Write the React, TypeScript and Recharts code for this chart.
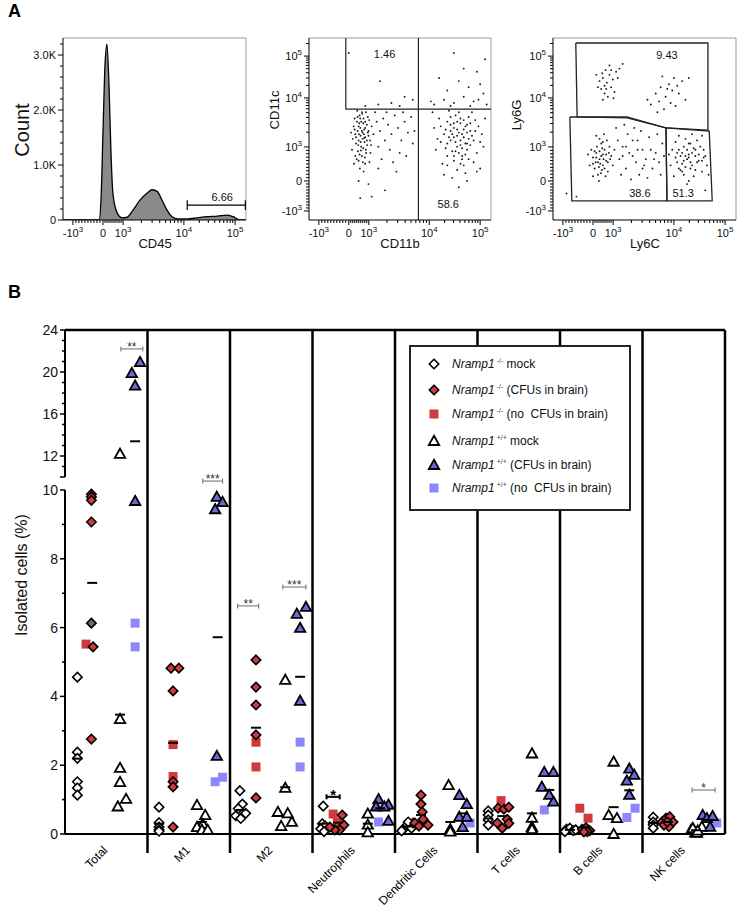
import React from 'react';
import {
  AreaChart,
  Area,
  ScatterChart,
  Scatter,
  XAxis,
  YAxis,
  ReferenceLine,
  ReferenceDot,
} from 'recharts';

const FONT = '"Liberation Sans", Arial, Helvetica, sans-serif';
const RED = '#cf3a3c';
const BLUE = '#6d67d9';
const LILAC = '#8c87fa';

// ---------- A: flow cytometry ----------
// biexponential axes drawn on a display scale where 0 -> 0 and 10^5 -> 4
const fcsLabels = ['-10^3', '0', '10^3', '10^4', '10^5'];
const fcsXMajor = [-0.91, 0, 0.61, 2.45, 4];
const fcsYMajor = [-0.96, 0, 1.09, 2.66, 4];
const fcsXDomain = [-1.21, 4.33];
const fcsYDomain = [-1.25, 4.58];

// CD45 histogram, count in thousands
const cd45Pos = [-1.21, -0.12, -0.06, 0, 0.06, 0.12, 0.18, 0.24, 0.3, 0.43, 0.58, 0.73, 0.91, 1.12, 1.34, 1.49, 1.64, 1.79, 1.94, 2.09, 2.27, 2.55, 2.85, 3.15, 3.46, 3.76, 3.94, 4.15, 4.33];
const cd45Count = [0, 0, 0.36, 1.58, 2.8, 3.2, 2.5, 1.27, 0.49, 0.13, 0.04, 0.05, 0.18, 0.36, 0.49, 0.55, 0.52, 0.36, 0.18, 0.06, 0.02, 0.02, 0.04, 0.06, 0.07, 0.09, 0.06, 0, 0];
const countMajor = [0, 1, 2, 3];
const countLabels = ['0', '1.0K', '2.0K', '3.0K'];
const cd45Gate = [2.55, 4.31, 0.27];

// CD11b (x) / CD11c (y) events
const cd11Events = [
  [0.42, 1.55], [0.35, 1.7], [0.5, 1.4], [0.3, 1.3], [0.55, 1.8], [0.25, 1.9], [0.45, 2.0], [0.6, 1.6], [0.38, 1.1], [0.2, 1.5],
  [0.48, 1.25], [0.33, 2.1], [0.58, 2.05], [0.28, 0.95], [0.4, 0.8], [0.15, 1.75], [0.65, 1.3], [0.52, 1.0], [0.22, 1.2], [0.44, 1.85],
  [0.36, 1.45], [0.62, 1.95], [0.18, 2.0], [0.3, 0.65], [0.5, 0.55], [0.27, 1.6], [0.47, 1.65], [0.4, 2.2], [0.7, 1.75], [0.12, 1.35],
  [0.56, 1.15], [0.34, 0.4], [0.45, 0.3], [0.2, 0.8], [0.66, 0.9], [0.75, 1.5], [0.1, 1.0], [0.52, 2.2], [0.26, 2.25], [0.42, 1.35],
  [0.32, 1.85], [0.58, 1.55], [0.37, 0.98], [0.49, 0.75], [0.16, 0.55], [0.63, 0.6],
  [0.3, 1.75], [0.4, 1.6], [0.5, 1.9], [0.22, 1.4], [0.36, 1.25], [0.46, 1.5], [0.55, 1.3], [0.27, 2.05], [0.41, 2.15], [0.33, 0.85],
  [0.44, 1.05], [0.6, 1.45], [0.18, 1.65], [0.5, 1.7], [0.38, 1.9], [0.29, 1.15], [0.53, 0.9], [0.24, 0.7], [0.43, 0.6], [0.68, 1.15],
  [0.07, 1.55], [0.31, 1.5], [0.47, 1.38], [0.35, 2.0],
  [0.85, 1.9], [0.95, 1.6], [1.05, 2.0], [1.1, 1.3], [0.9, 1.1], [1.2, 1.8], [1.3, 1.5], [1.4, 2.1], [1.25, 1.0], [1.5, 1.7],
  [1.6, 1.3], [1.7, 1.9], [1.55, 0.9], [1.8, 1.55], [1.9, 2.05], [1.95, 1.2], [1.0, 0.7], [1.35, 0.6], [1.75, 0.8], [0.8, 2.2],
  [1.15, 2.2], [1.65, 2.2], [2.0, 1.6], [0.9, 0.4], [1.45, 0.3], [0.6, -0.1], [0.3, 0.0], [0.7, -0.5], [0.35, -0.55], [1.1, -0.3],
  [3.35, 1.55], [3.2, 1.7], [3.5, 1.4], [3.1, 1.3], [3.6, 1.8], [3.0, 1.9], [3.4, 2.0], [3.7, 1.6], [3.3, 1.1], [2.9, 1.5],
  [3.55, 1.2], [3.25, 2.1], [3.65, 2.05], [3.15, 0.95], [3.45, 0.8], [2.8, 1.75], [3.8, 1.3], [3.6, 1.0], [3.0, 1.2], [3.4, 1.85],
  [3.3, 1.45], [3.85, 1.95], [2.75, 2.0], [3.2, 0.65], [3.5, 0.5], [3.1, 1.6], [3.5, 1.65], [3.35, 2.2], [3.95, 1.75], [2.7, 1.35],
  [3.7, 1.15], [3.3, 0.35], [3.55, 0.25], [3.0, 0.8], [3.9, 0.9], [4.05, 1.5], [2.65, 1.0], [3.75, 2.2], [3.05, 2.25], [3.4, 1.3],
  [3.2, 1.85], [3.6, 1.55], [3.25, 0.95], [3.45, 0.7], [2.85, 0.55], [3.8, 0.6], [4.1, 1.1], [4.15, 2.0], [2.6, 1.7], [2.55, 2.2],
  [3.9, 0.3], [3.15, 0.1], [3.6, 0.0], [2.9, 0.2], [4.0, 0.4], [3.35, -0.2],
  [3.3, 1.65], [3.45, 1.5], [3.2, 1.4], [3.55, 1.75], [3.1, 1.8], [3.4, 1.15], [3.65, 1.35], [3.25, 1.25], [3.5, 1.95], [3.35, 0.9],
  [3.15, 1.5], [3.6, 1.2], [2.95, 1.65], [3.75, 1.45], [3.3, 1.9], [3.45, 1.05], [3.05, 1.4], [3.7, 1.85], [3.2, 0.8], [3.55, 0.85],
  [3.85, 1.6], [2.95, 1.05], [3.4, 0.55], [3.1, 2.05], [3.65, 0.7], [3.0, 0.5], [4.0, 1.25], [2.8, 1.25],
  [2.6, 2.45], [2.9, 2.6], [3.2, 2.5], [3.5, 2.7], [3.8, 2.55], [4.1, 2.8], [3.0, 2.9], [3.65, 3.0], [3.35, 3.2], [4.0, 3.1],
  [2.75, 3.3], [3.9, 3.5], [3.5, 3.6], [4.15, 3.9], [3.2, 4.1], [2.5, 2.55], [3.7, 2.4], [4.2, 2.45], [3.1, 2.4], [3.95, 2.6],
  [0.9, 2.45], [1.3, 2.5], [1.7, 2.7], [1.95, 2.6], [1.55, 2.4], [0.0, 4.1], [0.95, 3.2], [0.5, 2.4],
];
const cd11Split = [2.12, 2.3, -0.09]; // vertical gate, horizontal gate, left edge of upper gate
const cd11GateLabels = [[1.09, 4.06, '1.46'], [3.03, -0.74, '58.6']];

// Ly6C (x) / Ly6G (y) events
const ly6Events = [
  [0.42, 3.15], [0.3, 3.3], [0.55, 3.0], [0.25, 2.95], [0.5, 3.4], [0.35, 2.8], [0.6, 3.25], [0.2, 3.2], [0.45, 2.7], [0.7, 3.5],
  [0.38, 3.55], [0.15, 3.0], [0.65, 2.85], [0.3, 2.6], [0.8, 3.6], [0.5, 3.7], [0.9, 3.75], [0.1, 3.4], [0.55, 3.55], [0.4, 2.95],
  [0.75, 3.3], [0.28, 3.45], [0.62, 2.65], [0.35, 3.05],
  [2.2, 2.7], [2.4, 2.9], [2.0, 2.55], [2.6, 2.8], [2.3, 3.1], [1.9, 2.8], [2.5, 2.4], [2.15, 2.3], [2.7, 3.2], [2.05, 3.0],
  [2.45, 3.3], [1.75, 2.45], [2.35, 2.5], [2.8, 2.6], [1.95, 2.2], [2.55, 3.05], [2.25, 2.95], [1.65, 2.6], [2.9, 3.3], [2.1, 3.35],
  [0.2, 0.7], [0.1, 0.9], [0.3, 0.5], [0.05, 0.4], [0.35, 1.0], [0.0, 0.75], [0.25, 1.2], [0.4, 0.65], [0.15, 0.2], [0.45, 0.3],
  [-0.05, 1.0], [0.3, 0.85], [0.2, 1.35], [0.5, 1.1], [0.08, 0.6], [0.38, 0.15], [0.55, 0.8], [-0.1, 0.5], [0.27, 0.35], [0.12, 1.1],
  [0.6, 0.5], [0.42, 1.3], [0.0, 0.15], [0.18, 0.0], [0.33, 1.5], [0.65, 1.0], [-0.15, 0.85], [0.22, 0.55], [0.48, 0.9], [0.1, 1.45],
  [0.25, 0.8], [0.15, 0.6], [0.32, 0.7], [0.2, 0.95], [0.4, 0.85], [0.1, 0.75], [0.28, 1.05], [0.35, 0.4], [0.05, 0.95], [0.45, 0.6],
  [0.18, 0.45], [0.3, 1.25], [0.52, 0.7], [0.0, 0.55], [0.24, 0.25],
  [0.8, 0.7], [0.9, 1.1], [1.0, 0.4], [1.1, 0.9], [1.2, 1.3], [1.3, 0.6], [1.4, 0.2], [1.5, 1.0], [1.6, 0.7], [1.7, 1.4],
  [1.8, 0.4], [1.9, 0.9], [2.0, 0.6], [2.1, 1.2], [0.85, 0.2], [1.05, 1.5], [1.35, 1.0], [1.65, 0.1], [1.95, 1.5], [0.75, 1.3],
  [1.15, 0.05], [1.55, 0.5], [2.05, 0.2], [1.25, 1.7], [0.95, 1.8], [1.45, 1.6], [0.7, 1.7], [-0.5, -0.5], [-0.8, -0.4],
  [1.2, 0.8], [1.5, 0.4], [1.75, 1.0], [1.0, 1.1], [1.85, 0.7], [2.15, 0.8], [1.35, 1.3], [0.9, 0.8],
  [2.85, 0.7], [2.7, 0.9], [3.0, 0.5], [2.6, 0.4], [3.1, 1.0], [2.5, 0.75], [2.95, 1.2], [3.2, 0.65], [2.75, 0.2], [3.3, 0.3],
  [2.4, 1.0], [2.9, 0.85], [2.8, 1.35], [3.25, 1.1], [2.55, 0.6], [3.05, 0.15], [3.4, 0.8], [2.35, 0.5], [2.65, 0.35], [2.75, 1.1],
  [3.45, 0.5], [3.15, 1.3], [2.45, 0.15], [2.9, 0.0], [3.0, 1.5], [3.35, 1.0], [2.3, 0.85], [2.7, 0.55], [3.1, 0.8], [2.6, 1.45],
  [3.5, 0.2], [3.3, 1.45], [2.95, 0.4], [2.85, -0.1], [3.4, -0.3], [2.5, 1.25],
  [2.9, 0.75], [2.75, 0.65], [3.0, 0.9], [2.8, 0.45], [3.15, 0.6], [2.65, 0.8], [2.95, 0.6], [3.05, 1.05], [2.85, 1.0], [3.2, 0.85],
  [2.7, 0.3], [3.3, 0.65], [2.6, 1.0], [3.1, 0.35], [2.9, 1.2], [2.55, 0.9], [3.35, 0.75], [2.8, 0.8],
];
const ly6GateTop = [[-0.52, 4.42], [3.48, 4.42], [3.48, 1.63], [2.21, 1.7], [1.03, 2.02], [-0.48, 2.05], [-0.52, 4.42]];
const ly6GateLeft = [[-0.7, 2.05], [1.03, 2.05], [2.21, 1.7], [2.24, -0.64], [-0.64, -0.64], [-0.7, 2.05]];
const ly6GateRight = [[2.21, 1.7], [3.52, 1.6], [3.61, -0.64], [2.24, -0.64], [2.21, 1.7]];
const ly6GateLabels = [[2.24, 4.03, '9.43'], [1.42, -0.38, '38.6'], [2.73, -0.38, '51.3']];

// ---------- B: isolated cells ----------
const categories = ['Total', 'M1', 'M2', 'Neutrophils', 'Dendritic Cells', 'T cells', 'B cells', 'NK cells'];
// [category, position inside the category (0-1), % isolated cells]
const koMock = [
  [0, .15, 4.56], [0, .15, 2.38], [0, .15, 2.2], [0, .15, 1.52], [0, .15, 1.34], [0, .15, 1.13],
  [1, .14, .78], [1, .14, .33], [1, .14, .2], [1, .14, .12], [1, .14, .08],
  [2, .12, 1.26], [2, .15, .87], [2, .1, .74], [2, .19, .6], [2, .07, .53], [2, .13, .45],
  [3, .13, .81], [3, .12, .3], [3, .15, .24], [3, .1, .15], [3, .14, .07],
  [4, .1, .14], [4, .15, .26], [4, .2, .17], [4, .08, .09], [4, .22, .32], [4, .16, .35],
  [5, .13, .67], [5, .13, .55], [5, .13, .41], [5, .13, .26],
  [6, .08, .14], [6, .12, .17], [6, .16, .1], [6, .06, .07], [6, .19, .12],
  [7, .13, .49], [7, .13, .35], [7, .13, .26], [7, .13, .17],
];
const koCfu = [
  [0, .32, 9.88], [0, .32, 9.8], [0, .32, 9.7], [0, .32, 9.07], [0, .34, 5.44], [0, .32, 2.76],
  [1, .285, 4.82], [1, .38, 4.82], [1, .31, 4.16], [1, .31, 1.52], [1, .31, 1.37], [1, .31, .2],
  [2, .315, 5.06], [2, .315, 4.27], [2, .315, 3.75], [2, .315, 2.88], [2, .315, 1.05],
  [3, .36, .55], [3, .38, .26], [3, .33, .12], [3, .27, .12], [3, .21, .2],
  [4, .315, 1.13], [4, .315, .87], [4, .33, .64], [4, .34, .43], [4, .24, .32], [4, .29, .23], [4, .4, .26],
  [5, .25, .75], [5, .32, .72], [5, .38, .78], [5, .36, .43], [5, .24, .32], [5, .38, .31], [5, .3, .17],
  [6, .27, .14], [6, .315, .18], [6, .36, .1], [6, .33, .07], [6, .29, .06],
  [7, .235, .35], [7, .285, .46], [7, .33, .5], [7, .37, .35], [7, .32, .21], [7, .26, .26], [7, .3, .35],
];
const koCfuOverlap = [[0, .32, 6.13]];
const koNoCfu = [
  [0, .255, 5.52], [1, .31, 2.6], [1, .31, 1.67], [2, .315, 2.67], [2, .315, 1.95],
  [3, .25, .58], [3, .3, .35], [5, .285, .97], [6, .24, .75], [6, .34, .46],
];
const wtMock = [
  [0, .667, 12.2], [0, .667, 3.34], [0, .667, 1.92], [0, .667, 1.51], [0, .74, 1.02], [0, .64, .8],
  [1, .6, .84], [1, .7, .55], [1, .67, .29], [1, .6, .2], [1, .66, .12], [1, .73, .12],
  [2, .67, 4.48], [2, .67, 1.34], [2, .58, .64], [2, .7, .6], [2, .75, .35], [2, .62, .23],
  [3, .67, .59], [3, .67, .27], [3, .67, .05],
  [4, .65, 1.42], [4, .67, .14], [4, .67, .07],
  [5, .66, 2.34], [5, .66, .47], [5, .66, .21], [5, .66, .14],
  [6, .65, 2.1], [6, .59, .55], [6, .69, .46], [6, .65, 0],
  [7, .59, .12], [7, .64, .04], [7, .66, .03], [7, .72, .21], [7, .61, .17], [7, .67, .1],
];
const wtCfu = [
  [0, .91, 20.95], [0, .81, 19.9], [0, .85, 18.7], [0, .85, 9.68],
  [1, .84, 9.8], [1, .91, 9.65], [1, .82, 9.44], [1, .84, 2.27],
  [2, .92, 6.6], [2, .81, 6.4], [2, .85, 5.99], [2, .85, 3.87],
  [3, .8, 1.01], [3, .92, .85], [3, .77, .8], [3, .87, .8], [3, .92, .38],
  [4, .78, 1.13], [4, .87, .87], [4, .78, .5], [4, .87, .5], [4, .82, .2],
  [5, .81, 1.8], [5, .92, 1.8], [5, .78, 1.37], [5, .87, 1.14], [5, .92, .94],
  [6, .84, 1.9], [6, .9, 1.72], [6, .81, 1.55], [6, .84, 1.14],
  [7, .73, .55], [7, .78, .46], [7, .85, .52], [7, .82, .21],
];
const wtNoCfu = [
  [0, .85, 6.13], [0, .85, 5.44], [1, .91, 1.65], [1, .82, 1.52], [2, .85, 2.67], [2, .85, 1.95],
  [3, .8, .35], [4, .91, .32], [5, .81, .7], [6, .91, .75], [6, .81, .48], [7, .9, .32],
];
const groupMeans = [
  [0, .15, 2.19], [0, .33, 7.3], [0, .667, 3.47], [0, .85, 13.4],
  [1, .14, .3], [1, .31, 2.65], [1, .66, .35], [1, .85, 5.72],
  [2, .13, .7], [2, .315, 3.09], [2, .67, 1.36], [2, .85, 4.57],
  [3, .13, .3], [3, .31, .33], [3, .67, .3], [3, .82, .75],
  [4, .15, .22], [4, .315, .55], [4, .67, .35], [4, .82, .6],
  [5, .13, .45], [5, .3, .52], [5, .66, .6], [5, .87, 1.28],
  [6, .12, .12], [6, .3, .2], [6, .65, .78], [6, .84, 1.27],
  [7, .13, .32], [7, .3, .35], [7, .65, .11], [7, .8, .41],
];
// significance bars: [centre, height, width in categories]
const sigBars = [[0.81, 22.2, 0.265], [1.79, 10.26, 0.24], [2.22, 6.63, 0.255], [2.78, 7.18, 0.28], [3.25, 1.08, 0.16], [7.74, 1.28, 0.28]];
const sigStars = ['**', '***', '**', '***', '*', '*'];
const sigBold = [false, false, false, false, true, false];

const upperTicks = [10, 11, 12, 13, 14, 15, 16, 17, 18, 19, 20, 21, 22, 23, 24];
const upperLabels = [12, 16, 20, 24];
const lowerTicks = [0, 1, 2, 3, 4, 5, 6, 7, 8, 9, 10];
const lowerLabels = [0, 2, 4, 6, 8, 10];

const legendItems = [
  { mark: 'openDiamond', sup: '-/-', text: ' mock' },
  { mark: 'redDiamond', sup: '-/-', text: ' (CFUs in brain)' },
  { mark: 'redSquare', sup: '-/-', text: ' (no  CFUs in brain)' },
  { mark: 'openTriangle', sup: '+/+', text: ' mock' },
  { mark: 'blueTriangle', sup: '+/+', text: ' (CFUs in brain)' },
  { mark: 'lilacSquare', sup: '+/+', text: ' (no  CFUs in brain)' },
];

// ---------- helpers ----------
const PLOT_W = 660;
const UNIT = PLOT_W / categories.length;

const fcsMinor = (m: number[], dom: number[]) => {
  const out: number[] = [];
  for (let k = 1; k < 10; k++) {
    out.push(m[0] + ((m[1] - m[0]) * k) / 10, m[1] + ((m[2] - m[1]) * k) / 10);
  }
  for (let d = 2; d < 4; d++) for (let k = 2; k < 10; k++) out.push(m[d] + Math.log10(k) * (m[d + 1] - m[d]));
  for (let k = 2; k < 10; k++) out.push(m[4] + Math.log10(k) * (m[4] - m[3]));
  return out.filter((v) => v > dom[0] && v < dom[1]);
};

const sup = (s: string) => {
  const [b, e] = s.split('^');
  if (!e) return b;
  return [<tspan key="b">{b}</tspan>, <tspan key="e" dy={-5} fontSize={8}>{e}</tspan>];
};

const xTick = (majors: number[], labels: string[]) => (p: any) => {
  const i = majors.indexOf(p.payload.value);
  return (
    <g>
      <line x1={p.x} x2={p.x} y1={p.y} y2={p.y + (i >= 0 ? 5 : 3)} stroke="#000" strokeWidth={1} />
      {i >= 0 && (
        <text x={p.x} y={p.y + 17} textAnchor="middle" fontSize={11} fontFamily={FONT} fill="#111">
          {sup(labels[i])}
        </text>
      )}
    </g>
  );
};

const yTick = (majors: number[], labels: string[]) => (p: any) => {
  const i = majors.indexOf(p.payload.value);
  return (
    <g>
      <line x1={p.x} x2={p.x - (i >= 0 ? 5 : 3)} y1={p.y} y2={p.y} stroke="#000" strokeWidth={1} />
      {i >= 0 && (
        <text x={p.x - 7} y={p.y + 4} textAnchor="end" fontSize={11} fontFamily={FONT} fill="#111">
          {sup(labels[i])}
        </text>
      )}
    </g>
  );
};

const bTick = (labelled: number[]) => (p: any) => {
  const v = p.payload.value;
  const lab = labelled.includes(v);
  const major = lab || v === 10;
  return (
    <g>
      <line x1={p.x} x2={p.x - (major ? 5 : 3)} y1={p.y} y2={p.y} stroke="#000" strokeWidth={1.5} />
      {lab && (
        <text x={p.x - 7} y={p.y + 5} textAnchor="end" fontSize={14} fontFamily={FONT} fill="#111">
          {v}
        </text>
      )}
    </g>
  );
};

const catTick = (p: any) => {
  const label = categories[Math.floor(p.payload.value)];
  const tx = p.x + 2;
  const ty = p.y + 17;
  return (
    <text x={tx} y={ty} transform={`rotate(-45 ${tx} ${ty})`} textAnchor="end" fontSize={12} fontFamily={FONT} fill="#000">
      {label}
    </text>
  );
};

const drawMark = (kind: string, cx: number, cy: number) => {
  if (kind === 'openDiamond' || kind === 'redDiamond' || kind === 'greyDiamond') {
    const fill = kind === 'openDiamond' ? '#fff' : kind === 'redDiamond' ? RED : '#6a6a6a';
    return <path d={`M${cx},${cy - 4.7}L${cx + 4.7},${cy}L${cx},${cy + 4.7}L${cx - 4.7},${cy}Z`} fill={fill} stroke="#000" strokeWidth={1.6} />;
  }
  if (kind === 'openTriangle' || kind === 'blueTriangle') {
    return (
      <path
        d={`M${cx},${cy - 5.2}L${cx + 5.2},${cy + 4}L${cx - 5.2},${cy + 4}Z`}
        fill={kind === 'openTriangle' ? '#fff' : BLUE}
        stroke="#000"
        strokeWidth={1.8}
      />
    );
  }
  const fill = kind === 'redSquare' ? RED : LILAC;
  return <rect x={cx - 4.5} y={cy - 4.5} width={9} height={9} fill={fill} />;
};

const markShape = (kind: string) => (p: any) => <g>{drawMark(kind, p.cx, p.cy)}</g>;
const meanShape = (p: any) => <line x1={p.cx - 5} x2={p.cx + 5} y1={p.cy} y2={p.cy} stroke="#000" strokeWidth={2} />;
const eventDot = (p: any) => <circle cx={p.cx} cy={p.cy} r={0.95} fill="#1a1a1a" />;
const noDot = () => <g />;

const sigShape = (w: number, text: string, bold: boolean) => (p: any) => {
  const h = (w * UNIT) / 2;
  const c = bold ? '#000' : '#777';
  const sw = bold ? 2 : 1.1;
  return (
    <g>
      <line x1={p.cx - h} x2={p.cx + h} y1={p.cy} y2={p.cy} stroke={c} strokeWidth={sw} />
      <line x1={p.cx - h} x2={p.cx - h} y1={p.cy - 2.5} y2={p.cy + 2.5} stroke={c} strokeWidth={sw} />
      <line x1={p.cx + h} x2={p.cx + h} y1={p.cy - 2.5} y2={p.cy + 2.5} stroke={c} strokeWidth={sw} />
      <text x={p.cx} y={p.cy + (bold ? 3 : 2)} textAnchor="middle" fontSize={bold ? 15 : 12} fontWeight={bold ? 700 : 400} fontFamily={FONT} fill={bold ? '#000' : '#333'}>
        {text}
      </text>
    </g>
  );
};

const gateLabel = (text: string) => (p: any) => (
  <text x={p.cx} y={p.cy + 4} textAnchor="middle" fontSize={11} fontFamily={FONT} fill="#111">
    {text}
  </text>
);

const toXY = (rows: number[][], lo: number, hi: number) =>
  rows.filter((r) => r[2] >= lo && r[2] < hi).map((r) => ({ x: r[0] + r[1], y: r[2] }));
const pairs = (rows: any[][]) => rows.map((r) => ({ x: r[0], y: r[1] }));

const Title = ({ x, y, size, rotate, children }: any) => (
  <div
    style={{
      position: 'absolute',
      left: x,
      top: y,
      transform: `translate(-50%, -50%)${rotate ? ' rotate(-90deg)' : ''}`,
      whiteSpace: 'nowrap',
      fontSize: size,
      fontFamily: FONT,
      color: '#111',
      lineHeight: 1,
    }}
  >
    {children}
  </div>
);

const fcsXTicks = [...fcsXMajor, ...fcsMinor(fcsXMajor, fcsXDomain)];
const fcsYTicks = [...fcsYMajor, ...fcsMinor(fcsYMajor, fcsYDomain)];
const countMinor = Array.from({ length: 16 }, (_, k) => Math.round((k + 1) * 2) / 10).filter((v) => v % 1 !== 0);
const countTicks = [...countMajor, ...countMinor];

const fcsX = (
  <XAxis
    type="number"
    dataKey="x"
    domain={fcsXDomain}
    allowDataOverflow
    ticks={fcsXTicks}
    interval={0}
    tickSize={0}
    tickMargin={0}
    tickLine={false}
    axisLine={{ stroke: '#000' }}
    height={30}
    tick={xTick(fcsXMajor, fcsLabels)}
  />
);

const FcsDotPlot = ({ events, children, right }: any) => (
  <ScatterChart width={right === 2 ? 248 : 260} height={250} margin={{ top: 38, right, bottom: 0, left: 0 }}>
    {fcsX}
    <YAxis
      type="number"
      dataKey="y"
      domain={fcsYDomain}
      allowDataOverflow
      ticks={fcsYTicks}
      interval={0}
      tickSize={0}
      tickMargin={0}
      tickLine={false}
      axisLine={{ stroke: '#000' }}
      width={63}
      tick={yTick(fcsYMajor, fcsLabels)}
    />
    <ReferenceLine y={fcsYDomain[1]} stroke="#9a9a9a" />
    <ReferenceLine x={fcsXDomain[1]} stroke="#9a9a9a" />
    <Scatter data={pairs(events)} shape={eventDot} isAnimationActive={false} />
    {children}
  </ScatterChart>
);

const bSeries = (lo: number, hi: number) => [
  <Scatter key="km" data={toXY(koMock, lo, hi)} shape={markShape('openDiamond')} isAnimationActive={false} />,
  <Scatter key="kn" data={toXY(koNoCfu, lo, hi)} shape={markShape('redSquare')} isAnimationActive={false} />,
  <Scatter key="kc" data={toXY(koCfu, lo, hi)} shape={markShape('redDiamond')} isAnimationActive={false} />,
  <Scatter key="ko" data={toXY(koCfuOverlap, lo, hi)} shape={markShape('greyDiamond')} isAnimationActive={false} />,
  <Scatter key="wm" data={toXY(wtMock, lo, hi)} shape={markShape('openTriangle')} isAnimationActive={false} />,
  <Scatter key="wn" data={toXY(wtNoCfu, lo, hi)} shape={markShape('lilacSquare')} isAnimationActive={false} />,
  <Scatter key="wc" data={toXY(wtCfu, lo, hi)} shape={markShape('blueTriangle')} isAnimationActive={false} />,
  <Scatter key="mn" data={toXY(groupMeans, lo, hi)} shape={meanShape} isAnimationActive={false} />,
  ...sigBars
    .map((s, i) => ({ s, i }))
    .filter(({ s }) => (lo >= 10 ? s[1] >= 10.5 : s[1] < 10.5))
    .map(({ s, i }) => (
      <ReferenceDot key={`sig${i}`} x={s[0]} y={s[1]} r={0} ifOverflow="visible" shape={sigShape(s[2], sigStars[i], sigBold[i])} />
    )),
];

const dividers = [1, 2, 3, 4, 5, 6, 7];

export default function App() {
  return (
    <div style={{ position: 'absolute', left: 0, top: 0, width: 738, height: 912, background: '#fff', overflow: 'hidden', fontFamily: FONT }}>
      <div style={{ position: 'absolute', left: 8, top: 2, fontSize: 18, fontWeight: 700, lineHeight: 1 }}>A</div>
      <div style={{ position: 'absolute', left: 8, top: 283, fontSize: 18, fontWeight: 700, lineHeight: 1 }}>B</div>

      {/* CD45 histogram */}
      <div style={{ position: 'absolute', left: 0, top: 0 }}>
        <AreaChart width={260} height={250} data={cd45Pos.map((x, i) => ({ x, c: cd45Count[i] }))} margin={{ top: 38, right: 14, bottom: 0, left: 0 }}>
          {fcsX}
          <YAxis
            type="number"
            domain={[0, 3.31]}
            allowDataOverflow
            ticks={countTicks}
            interval={0}
            tickSize={0}
            tickMargin={0}
            tickLine={false}
            axisLine={{ stroke: '#000' }}
            width={63}
            tick={yTick(countMajor, countLabels)}
          />
          <Area type="monotone" dataKey="c" stroke="#000" strokeWidth={1.3} fill="#8a8a8a" fillOpacity={1} isAnimationActive={false} />
          <ReferenceLine y={3.31} stroke="#9a9a9a" />
          <ReferenceLine x={4.33} stroke="#9a9a9a" />
          <ReferenceLine segment={[{ x: cd45Gate[0], y: cd45Gate[2] }, { x: cd45Gate[1], y: cd45Gate[2] }]} stroke="#000" strokeWidth={1.2} />
          <ReferenceLine segment={[{ x: cd45Gate[0], y: cd45Gate[2] - 0.09 }, { x: cd45Gate[0], y: cd45Gate[2] + 0.09 }]} stroke="#000" strokeWidth={1.2} />
          <ReferenceLine segment={[{ x: cd45Gate[1], y: cd45Gate[2] - 0.09 }, { x: cd45Gate[1], y: cd45Gate[2] + 0.09 }]} stroke="#000" strokeWidth={1.2} />
          <ReferenceDot x={3.61} y={0.42} r={0} ifOverflow="visible" shape={gateLabel('6.66')} />
        </AreaChart>
      </div>

      {/* CD11b / CD11c */}
      <div style={{ position: 'absolute', left: 246, top: 0 }}>
        <FcsDotPlot events={cd11Events} right={15}>
          <ReferenceLine x={cd11Split[0]} stroke="#222" strokeWidth={1.2} />
          <ReferenceLine segment={[{ x: cd11Split[2], y: cd11Split[1] }, { x: fcsXDomain[1], y: cd11Split[1] }]} stroke="#222" strokeWidth={1.2} />
          <ReferenceLine segment={[{ x: cd11Split[2], y: cd11Split[1] }, { x: cd11Split[2], y: fcsYDomain[1] }]} stroke="#222" strokeWidth={1.2} />
          {cd11GateLabels.map((g, i) => (
            <ReferenceDot key={i} x={g[0] as number} y={g[1] as number} r={0} ifOverflow="visible" shape={gateLabel(g[2] as string)} />
          ))}
        </FcsDotPlot>
      </div>

      {/* Ly6C / Ly6G */}
      <div style={{ position: 'absolute', left: 490, top: 0 }}>
        <FcsDotPlot events={ly6Events} right={2}>
          {[ly6GateTop, ly6GateLeft, ly6GateRight].map((g, i) => (
            <Scatter key={`g${i}`} data={pairs(g)} line={{ stroke: '#222', strokeWidth: 1.3 }} shape={noDot} isAnimationActive={false} />
          ))}
          {ly6GateLabels.map((g, i) => (
            <ReferenceDot key={i} x={g[0] as number} y={g[1] as number} r={0} ifOverflow="visible" shape={gateLabel(g[2] as string)} />
          ))}
        </FcsDotPlot>
      </div>

      <Title x={22} y={130} size={20} rotate>Count</Title>
      <Title x={155} y={243} size={13}>CD45</Title>
      <Title x={274} y={110} size={13} rotate>CD11c</Title>
      <Title x={400} y={243} size={13}>CD11b</Title>
      <Title x={516} y={115} size={13} rotate>Ly6G</Title>
      <Title x={645} y={243} size={13}>Ly6C</Title>

      {/* B: lower part of the broken axis */}
      <div style={{ position: 'absolute', left: 0, top: 470, zIndex: 1 }}>
        <ScatterChart width={738} height={442} margin={{ top: 20, right: 13, bottom: 0, left: 1 }}>
          <XAxis
            type="number"
            dataKey="x"
            domain={[0, 8]}
            ticks={categories.map((_, i) => i + 0.5)}
            interval={0}
            height={78}
            tickSize={0}
            tickMargin={0}
            tickLine={false}
            axisLine={{ stroke: '#000', strokeWidth: 2 }}
            tick={catTick}
          />
          <YAxis
            type="number"
            dataKey="y"
            domain={[0, 10]}
            ticks={lowerTicks}
            interval={0}
            width={64}
            tickSize={0}
            tickMargin={0}
            tickLine={false}
            axisLine={{ stroke: '#000', strokeWidth: 2 }}
            tick={bTick(lowerLabels)}
          />
          {dividers.map((d) => (
            <ReferenceLine key={d} segment={[{ x: d, y: -0.55 }, { x: d, y: 10.38 }]} ifOverflow="visible" stroke="#000" strokeWidth={2.5} />
          ))}
          <ReferenceLine segment={[{ x: 8, y: 0 }, { x: 8, y: 10.38 }]} ifOverflow="visible" stroke="#000" strokeWidth={2.5} />
          {bSeries(0, 10)}
        </ScatterChart>
      </div>

      {/* B: upper part of the broken axis */}
      <div style={{ position: 'absolute', left: 0, top: 320, zIndex: 2 }}>
        <ScatterChart width={738} height={170} margin={{ top: 10, right: 13, bottom: 13, left: 1 }}>
          <XAxis type="number" dataKey="x" domain={[0, 8]} hide />
          <YAxis
            type="number"
            dataKey="y"
            domain={[10, 24]}
            ticks={upperTicks}
            interval={0}
            width={64}
            tickSize={0}
            tickMargin={0}
            tickLine={false}
            axisLine={{ stroke: '#000', strokeWidth: 2 }}
            tick={bTick(upperLabels)}
          />
          {[...dividers, 8].map((d) => (
            <ReferenceLine key={d} x={d} stroke="#000" strokeWidth={2.5} />
          ))}
          <ReferenceLine y={24} stroke="#000" strokeWidth={2.5} />
          {bSeries(10, 100)}
        </ScatterChart>
      </div>

      <Title x={22} y={575} size={16} rotate>Isolated cells (%)</Title>

      {/* legend */}
      <div
        style={{
          position: 'absolute',
          left: 409,
          top: 345,
          width: 222,
          height: 166,
          boxSizing: 'border-box',
          border: '2px solid #222',
          background: '#fff',
          zIndex: 3,
        }}
      >
        {legendItems.map((it, i) => (
          <div key={i} style={{ position: 'absolute', left: 16, top: [10, 36, 60, 87, 111, 134][i], height: 14, display: 'flex', alignItems: 'center' }}>
            <svg width={14} height={14} style={{ marginRight: 11 }}>
              {drawMark(it.mark, 7, 7)}
            </svg>
            <span style={{ fontSize: 12, color: '#111', whiteSpace: 'pre' }}>
              <i>Nramp1</i>
              <span style={{ fontSize: 7, verticalAlign: 'super', color: '#444' }}> {it.sup}</span>
              {it.text}
            </span>
          </div>
        ))}
      </div>
    </div>
  );
}
